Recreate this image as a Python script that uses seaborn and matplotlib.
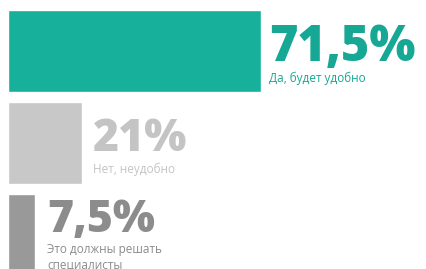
"""
Survey answer bars: horizontal bars with big percent labels
"""

import matplotlib
matplotlib.use("Agg")
import matplotlib.pyplot as plt
import seaborn as sns
import pandas as pd

# Data
answers = ["Да, будет удобно", "Нет, неудобно", "Это должны решать\nспециалисты"]
shares = [71.5, 21.0, 7.5]
pct_labels = ["71,5%", "21%", "7,5%"]

# Style
bar_colors = ["#16b09b", "#c8c8c8", "#999999"]
text_colors = ["#16a894", "#c4c4c4", "#8c8c8c"]
pct_sizes = [35, 32, 32]
pct_dy = [-7, -6, 2]      # baseline offset from bar centre, points
label_dy = [-8, -8, -8]   # top of answer text below the percent baseline, points
pct_pad = [6, 8, 9]       # gap between bar end and text, points

sns.set_theme(style="white")
plt.rcParams["font.family"] = ["Open Sans", "DejaVu Sans"]

df = pd.DataFrame({"answer": answers, "share": shares})

fig = plt.figure(figsize=(4.26, 2.69), dpi=100)
ax = fig.add_axes([0, 0, 1, 1])

sns.barplot(data=df, x="share", y="answer", hue="answer", palette=bar_colors,
            orient="h", width=0.89, saturation=1, legend=False, ax=ax)

ax.set_xlim(-2.26, 118.1)
ax.set_ylim(2.37, -0.554)
ax.axis("off")

for i, (val, pct) in enumerate(zip(shares, pct_labels)):
    ax.annotate(pct, xy=(val, i), xytext=(pct_pad[i], pct_dy[i]),
                textcoords="offset points", va="baseline", ha="left",
                fontsize=pct_sizes[i], fontweight="heavy", color=text_colors[i])
    ax.annotate(answers[i], xy=(val, i), xytext=(pct_pad[i], pct_dy[i] + label_dy[i]),
                textcoords="offset points", va="top", ha="left",
                fontsize=8.5, color=text_colors[i], linespacing=1.3)

fig.savefig("out.png", dpi=100)
plt.close(fig)
